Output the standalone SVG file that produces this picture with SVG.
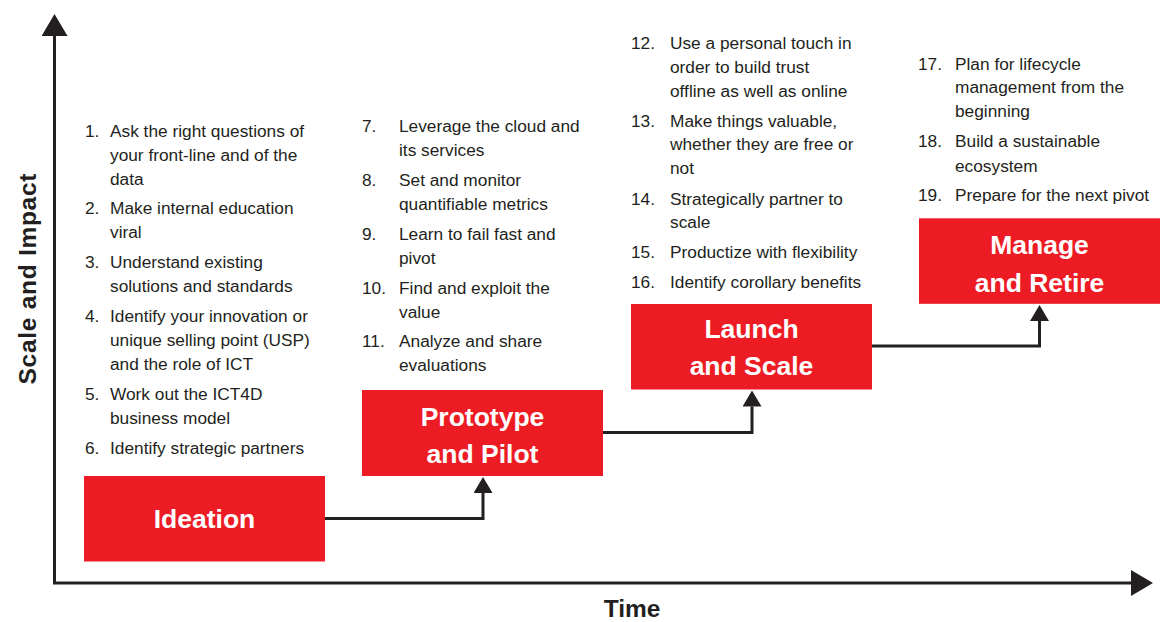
<svg xmlns="http://www.w3.org/2000/svg" width="1160" height="622" viewBox="0 0 1160 622">
<defs>
<style>
.box{fill:#ed1c24}
.lbl{font-family:"Liberation Sans",Arial,sans-serif;font-weight:bold;font-size:26.5px;fill:#ffffff;text-anchor:middle}
.lst{font-family:"Liberation Sans",Arial,sans-serif;font-size:17.3px;fill:#231f20}
.ax{font-family:"Liberation Sans",Arial,sans-serif;font-weight:bold;font-size:24.5px;fill:#231f20;text-anchor:middle}
.axis{fill:none;stroke:#231f20;stroke-width:3}
.conn{fill:none;stroke:#231f20;stroke-width:3}
</style>
<marker id="axhead" viewBox="0 0 22 26" refX="0" refY="13" markerWidth="22" markerHeight="26" markerUnits="userSpaceOnUse" orient="auto-start-reverse">
<path d="M0,0 L22,13 L0,26 z" fill="#231f20"/>
</marker>
<marker id="head" viewBox="0 0 16 19" refX="0" refY="9.5" markerWidth="16" markerHeight="19" markerUnits="userSpaceOnUse" orient="auto">
<path d="M0,0 L16,9.5 L0,19 z" fill="#231f20"/>
</marker>
</defs>
<rect width="1160" height="622" fill="#ffffff"/>

<g id="axes">
<path class="axis" d="M54.5,36 V583 H1131" marker-start="url(#axhead)" marker-end="url(#axhead)"/>
<text class="ax" x="632" y="617">Time</text>
<text class="ax" font-size="25.5" transform="translate(35.5,279) rotate(-90)" textLength="211" lengthAdjust="spacing">Scale and Impact</text>
</g>

<g id="connectors">
<path class="conn" d="M325,518.5 H483 V493" marker-end="url(#head)"/>
<path class="conn" d="M603,432.5 H752 V406.5" marker-end="url(#head)"/>
<path class="conn" d="M872,346 H1039.5 V321" marker-end="url(#head)"/>
</g>

<g id="ideation">
<rect class="box" x="84" y="476" width="241" height="85.5"/>
<text class="lbl" x="204.5" y="528">Ideation</text>
<text class="lst">
<tspan x="85" y="136.5">1.</tspan><tspan x="110" y="136.5">Ask the right questions of</tspan>
<tspan x="110" y="160.5">your front-line and of the</tspan>
<tspan x="110" y="184.5">data</tspan>
<tspan x="85" y="213.5">2.</tspan><tspan x="110" y="213.5">Make internal education</tspan>
<tspan x="110" y="237.5">viral</tspan>
<tspan x="85" y="268">3.</tspan><tspan x="110" y="268">Understand existing</tspan>
<tspan x="110" y="292">solutions and standards</tspan>
<tspan x="85" y="322">4.</tspan><tspan x="110" y="322">Identify your innovation or</tspan>
<tspan x="110" y="346">unique selling point (USP)</tspan>
<tspan x="110" y="370">and the role of ICT</tspan>
<tspan x="85" y="399.5">5.</tspan><tspan x="110" y="399.5">Work out the ICT4D</tspan>
<tspan x="110" y="423.5">business model</tspan>
<tspan x="85" y="453.5">6.</tspan><tspan x="110" y="453.5">Identify strategic partners</tspan>
</text>
</g>

<g id="prototype">
<rect class="box" x="362" y="390" width="241" height="86"/>
<text class="lbl" x="482.5" y="425.7">Prototype</text>
<text class="lbl" x="482.5" y="462.5">and Pilot</text>
<text class="lst">
<tspan x="362" y="132">7.</tspan><tspan x="399" y="132">Leverage the cloud and</tspan>
<tspan x="399" y="156">its services</tspan>
<tspan x="362" y="186">8.</tspan><tspan x="399" y="186">Set and monitor</tspan>
<tspan x="399" y="210">quantifiable metrics</tspan>
<tspan x="362" y="239.5">9.</tspan><tspan x="399" y="239.5">Learn to fail fast and</tspan>
<tspan x="399" y="263.5">pivot</tspan>
<tspan x="362" y="293.5">10.</tspan><tspan x="399" y="293.5">Find and exploit the</tspan>
<tspan x="399" y="317.5">value</tspan>
<tspan x="362" y="347">11.</tspan><tspan x="399" y="347">Analyze and share</tspan>
<tspan x="399" y="371">evaluations</tspan>
</text>
</g>

<g id="launch">
<rect class="box" x="631" y="304" width="241" height="85.5"/>
<text class="lbl" x="751.5" y="338">Launch</text>
<text class="lbl" x="751.5" y="375">and Scale</text>
<text class="lst">
<tspan x="631" y="49.3">12.</tspan><tspan x="670" y="49.3">Use a personal touch in</tspan>
<tspan x="670" y="73">order to build trust</tspan>
<tspan x="670" y="96.7">offline as well as online</tspan>
<tspan x="631" y="126.5">13.</tspan><tspan x="670" y="126.5">Make things valuable,</tspan>
<tspan x="670" y="150.3">whether they are free or</tspan>
<tspan x="670" y="174">not</tspan>
<tspan x="631" y="204.5">14.</tspan><tspan x="670" y="204.5">Strategically partner to</tspan>
<tspan x="670" y="228.2">scale</tspan>
<tspan x="631" y="258.2">15.</tspan><tspan x="670" y="258.2">Productize with flexibility</tspan>
<tspan x="631" y="288.2">16.</tspan><tspan x="670" y="288.2">Identify corollary benefits</tspan>
</text>
</g>

<g id="manage">
<rect class="box" x="919" y="218.3" width="241" height="85.5"/>
<text class="lbl" x="1039.5" y="254">Manage</text>
<text class="lbl" x="1039.5" y="291.5">and Retire</text>
<text class="lst">
<tspan x="918" y="69.8">17.</tspan><tspan x="955" y="69.8">Plan for lifecycle</tspan>
<tspan x="955" y="93.3">management from the</tspan>
<tspan x="955" y="117.2">beginning</tspan>
<tspan x="918" y="147.2">18.</tspan><tspan x="955" y="147.2">Build a sustainable</tspan>
<tspan x="955" y="171.5">ecosystem</tspan>
<tspan x="918" y="200.5">19.</tspan><tspan x="955" y="200.5">Prepare for the next pivot</tspan>
</text>
</g>
</svg>
